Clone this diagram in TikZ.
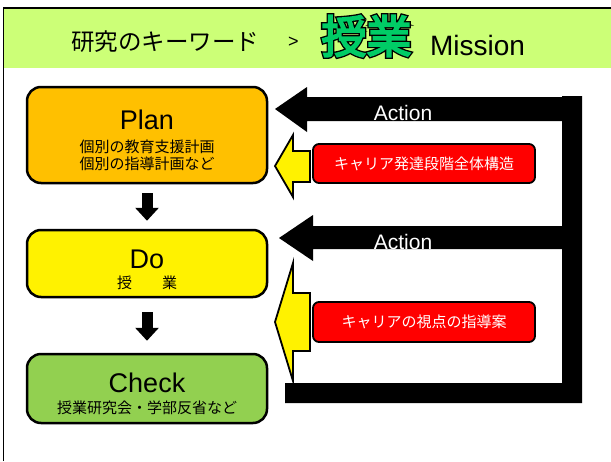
\documentclass[tikz,border=0pt]{standalone}
\usepackage{fontspec}
\setmainfont{Liberation Sans}
\newfontfamily\jp{Noto Sans CJK JP}
\newfontfamily\jpfat[FakeBold=10]{Noto Sans CJK JP}
\newfontfamily\jpmid[FakeBold=4]{Noto Sans CJK JP}
\usetikzlibrary{arrows.meta,calc}
\definecolor{hdr}{RGB}{204,255,119}
\definecolor{planor}{RGB}{255,192,0}
\definecolor{chkgreen}{RGB}{146,208,80}
\definecolor{kwgreen}{RGB}{0,204,102}
\newcommand\myfs[1]{\fontsize{#1}{#1}\selectfont}
\begin{document}
\begin{tikzpicture}[x=1pt,y=-1pt,
  txt/.style={inner sep=0pt, outer sep=0pt},
  pdcbox/.style={draw=black, line width=2.5pt, rounded corners=14pt, minimum width=240pt, inner sep=0pt},
  redbox/.style={draw=black, line width=1.8pt, fill=red, rounded corners=6pt, minimum width=222pt, inner sep=0pt, text=white, font=\jp\myfs{15}},
  downarrow/.style={draw=black, line width=11pt, -{Triangle[width=23pt,length=13pt]}},
  yarrow/.style={draw=black, fill=yellow, line width=1.8pt, line join=miter},
  actiontext/.style={txt, text=white, font=\myfs{21}, anchor=base}
]
\useasboundingbox (0,0) rectangle (611,461);
\fill[white] (0,0) rectangle (611,461);
% header band and frame
\fill[hdr] (3.5,8) rectangle (611,68);
\draw[line width=1.5pt] (3.5,461) -- (3.5,8) -- (611,8);
% title
\node[txt, font=\jp\myfs{23.5}] (kw) at (165,42) {研究のキーワード};
\node[txt, font=\myfs{18}] (gt) at (293.5,42) {>};
\node[txt, font=\jpfat\myfs{45}, text=black] (kwout) at (366.5,36) {授業};
\node[txt, font=\jpmid\myfs{45}, text=kwgreen] (kwbig) at (kwout.center) {授業};
\node[txt, anchor=base, font=\myfs{28}] (mis) at (477.5,55) {Mission};
% PDC boxes
\node[pdcbox, fill=planor, minimum height=96pt] (plan) at (147,135) {};
\node[pdcbox, fill=yellow, minimum height=67pt] (do) at (147,263.5) {};
\node[pdcbox, fill=chkgreen, minimum height=69pt] (check) at (147,388.5) {};
\node[txt, anchor=base, font=\myfs{27}] (plant) at (147,129) {Plan};
\node[txt, font=\jp\myfs{15}] (plans1) at (147,147) {個別の教育支援計画};
\node[txt, font=\jp\myfs{15}] (plans2) at (147,164) {個別の指導計画など};
\node[txt, anchor=base, font=\myfs{27}] (dot) at (147,268) {Do};
\node[txt, font=\jp\myfs{15}] (dos) at (147,283) {授　　業};
\node[txt, anchor=base, font=\myfs{27}] (checkt) at (147,392) {Check};
\node[txt, font=\jp\myfs{15}] (checks) at (147,408) {授業研究会・学部反省など};
% down arrows
\draw[downarrow] ([yshift=-9pt]plan.south) -- ([yshift=8pt]do.north);
\draw[downarrow] ([yshift=-14pt]do.south) -- ([yshift=12pt]check.north);
% action loop
\fill[black] (275,109) -- (307,87) -- (307,97) -- (562,97) -- (562,96) -- (582,96)
  -- (582,403) -- (285,403) -- (285,383) -- (562,383) -- (562,249) -- (313,249)
  -- (313,261) -- (279,238) -- (313,215) -- (313,226) -- (562,226) -- (562,121)
  -- (307,121) -- (307,132) -- cycle;
\node[actiontext] (act1) at (403,120) {Action};
\node[actiontext] (act2) at (403,249) {Action};
% red boxes
\node[redbox, minimum height=39pt] (red1) at (424,163.5) {キャリア発達段階全体構造};
\node[redbox, minimum height=40pt] (red2) at (424,322) {キャリアの視点の指導案};
% yellow arrows
\draw[yarrow] (310,151) -- (293,151) -- (293,135) -- (275,166) -- (293,197) -- (293,182) -- (310,182) -- cycle;
\draw[yarrow] (310,293) -- (293,293) -- (293,263) -- (275,322) -- (293,381) -- (293,351) -- (310,351) -- cycle;
\end{tikzpicture}
\end{document}
